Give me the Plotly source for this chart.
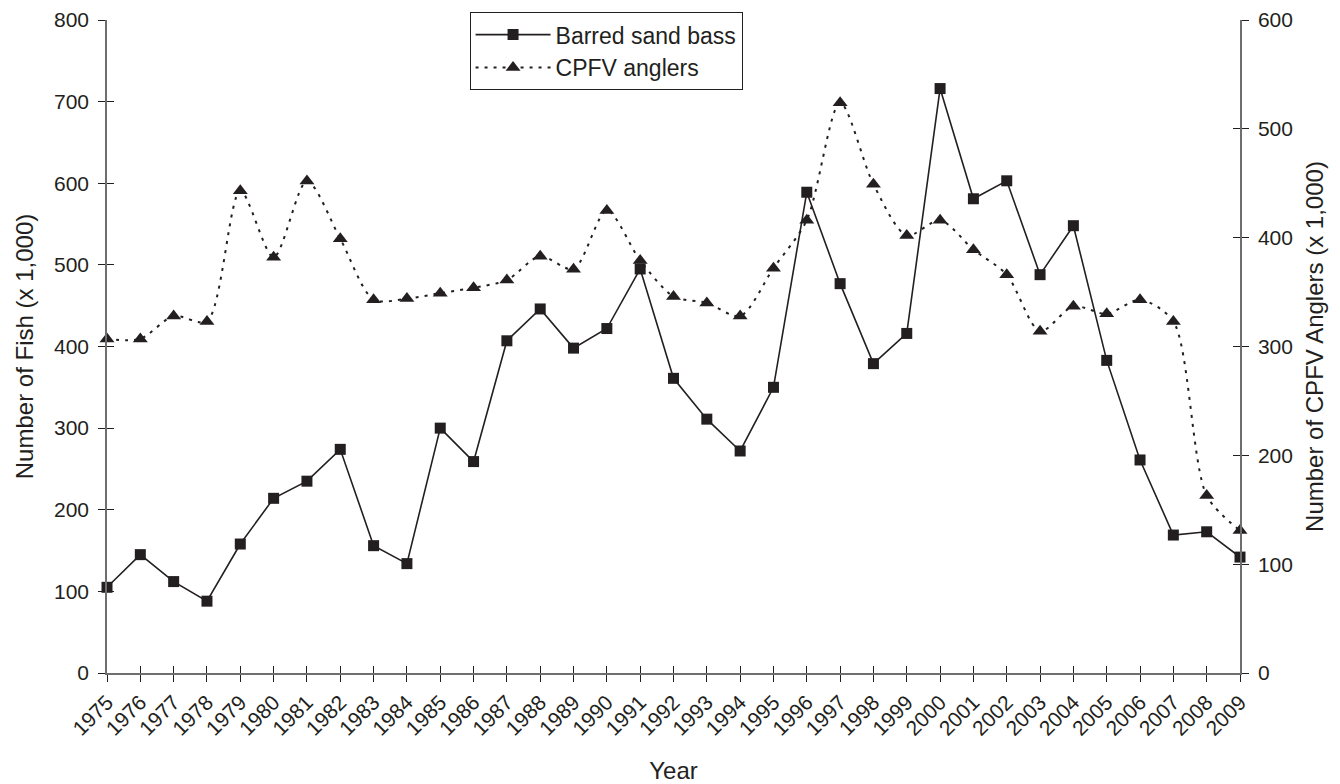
import plotly.graph_objects as go

years = list(range(1975, 2010))
bass = [105, 145, 112, 88, 158, 214, 235, 274, 156, 134,
        300, 259, 407, 446, 398, 422, 495, 361, 311, 272,
        350, 589, 477, 379, 416, 716, 581, 603, 488, 548,
        383, 261, 169, 173, 142]
anglers = [307, 307, 328, 323, 443, 382, 452, 399, 343, 344,
           349, 354, 361, 383, 371, 425, 379, 346, 340, 328,
           372, 416, 524, 449, 402, 416, 389, 366, 314, 337,
           330, 343, 323, 163, 131]
left_ticks = [0, 100, 200, 300, 400, 500, 600, 700, 800]
right_ticks = [0, 100, 200, 300, 400, 500, 600]

INK = "#231f20"
AX = "#6e6e6e"
FONT = "Liberation Sans, Arial, sans-serif"

fig = go.Figure()
fig.add_trace(go.Scatter(
    x=years, y=bass, name="Barred sand bass", mode="lines+markers",
    legendgroup="a",
    line=dict(color=INK, width=1.6),
    marker=dict(symbol="square", size=11, color=INK),
    xaxis="x", yaxis="y", cliponaxis=False))
fig.add_trace(go.Scatter(
    x=years, y=anglers, name="CPFV anglers", mode="lines+markers",
    legendgroup="b",
    line=dict(color=INK, width=2, dash="3px,6px", shape="spline", smoothing=0.8),
    marker=dict(symbol="triangle-up", size=13, color=INK),
    xaxis="x", yaxis="y2", cliponaxis=False))
# invisible helper traces so the overlay axes (inner half of cross ticks) get drawn
fig.add_trace(go.Scatter(x=years, y=bass, mode="lines", opacity=0, showlegend=False,
                         hoverinfo="skip", xaxis="x3", yaxis="y3"))
fig.add_trace(go.Scatter(x=years, y=anglers, mode="lines", opacity=0, showlegend=False,
                         hoverinfo="skip", xaxis="x3", yaxis="y4"))

fig.update_layout(
    width=1332, height=776,
    margin=dict(l=99, r=100, t=12, b=111, autoexpand=False),
    paper_bgcolor="white", plot_bgcolor="white",
    font=dict(family=FONT, size=20, color=INK),
    showlegend=True,
    legend=dict(x=0.32, y=1.012, xanchor="left", yanchor="top",
                bgcolor="white", bordercolor=INK, borderwidth=1,
                font=dict(size=23), itemwidth=75, tracegroupgap=4,
                traceorder="normal"),
    xaxis=dict(range=[1975, 2009], tickmode="array", tickvals=years,
               ticktext=[str(y) for y in years], tickangle=-45,
               ticks="outside", ticklen=7, tickcolor=INK, tickwidth=1,
               showline=True, linecolor=AX, linewidth=1.5,
               showgrid=False, zeroline=False, anchor="y", automargin=False,
               title=dict(text="Year", standoff=24),
               tickfont=dict(size=21)),
    yaxis=dict(range=[0, 800], tickvals=left_ticks,
               ticks="outside", ticklen=7, tickcolor=INK,
               showline=True, linecolor=AX, linewidth=1.5,
               showgrid=False, zeroline=False, anchor="x", automargin=False,
               ticklabelstandoff=5, tickfont=dict(size=21),
               title=dict(text="Number of Fish (x 1,000)", standoff=14)),
    yaxis2=dict(range=[0, 600], tickvals=right_ticks, overlaying="y", side="right",
                ticks="outside", ticklen=7, tickcolor=INK,
                showline=True, linecolor=AX, linewidth=1.5,
                showgrid=False, zeroline=False, anchor="x", automargin=False,
                ticklabelstandoff=5, tickfont=dict(size=21),
                title=dict(text="Number of CPFV Anglers (x 1,000)", standoff=14)),
    xaxis3=dict(range=[1975, 2009], tickmode="array", tickvals=years,
                overlaying="x", anchor="y3", side="bottom", automargin=False,
                ticks="inside", ticklen=7, tickcolor=INK,
                showticklabels=False, showline=False, showgrid=False, zeroline=False),
    yaxis3=dict(range=[0, 800], tickvals=left_ticks, overlaying="y", anchor="x3",
                side="left", ticks="inside", ticklen=7, tickcolor=INK, automargin=False,
                showticklabels=False, showline=False, showgrid=False, zeroline=False),
    yaxis4=dict(range=[0, 600], tickvals=right_ticks, overlaying="y", anchor="x3",
                side="right", ticks="inside", ticklen=7, tickcolor=INK, automargin=False,
                showticklabels=False, showline=False, showgrid=False, zeroline=False),
)

fig.write_html("out.html")
